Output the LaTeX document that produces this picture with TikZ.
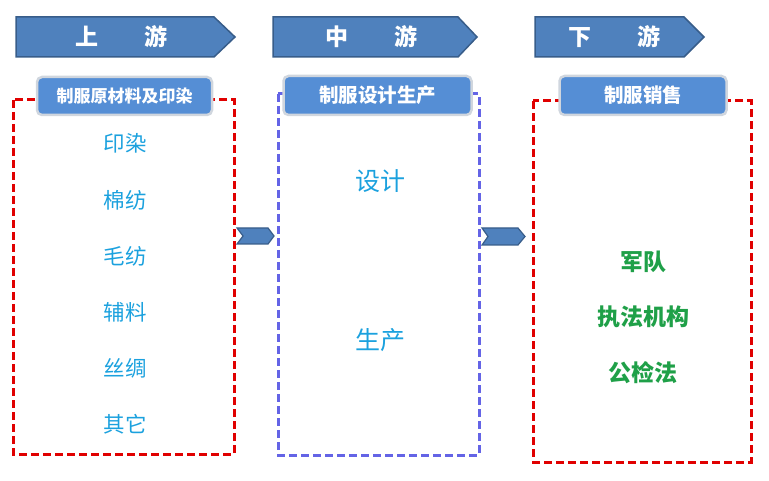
\documentclass[tikz,border=0pt]{standalone}
\usepackage{fontspec}
\setmainfont{Noto Sans CJK SC}
\usetikzlibrary{calc}
\definecolor{hdrfill}{HTML}{4F81BD}
\definecolor{hdrline}{HTML}{385D8A}
\definecolor{lblfill}{HTML}{558ED5}
\definecolor{lblline}{HTML}{D0D6DE}
\definecolor{redd}{HTML}{E00000}
\definecolor{blued}{HTML}{6464E6}
\definecolor{cyantxt}{HTML}{1BA1DE}
\definecolor{greentxt}{HTML}{1FA048}
\tikzset{
  hdrarrow/.style={fill=hdrfill, draw=hdrline, line width=1.5pt, line join=miter},
  hdrtext/.style={text=white, font=\bfseries\fontsize{23}{23}\selectfont, inner sep=0pt},
  redbox/.style={draw=redd, line width=3pt, dash pattern=on 8pt off 4pt},
  bluebox/.style={draw=blued, line width=3pt, dash pattern=on 8pt off 4pt},
  lblbox/.style={fill=lblfill, draw=lblline, line width=2.5pt, rounded corners=5pt, text=white, font=\bfseries\fontsize{19.5}{19.5}\selectfont, inner sep=0pt},
  chev/.style={fill=hdrfill, draw=hdrline, line width=1.2pt, line join=miter},
  listtxt/.style={text=cyantxt, font=\fontsize{21.5}{21.5}\selectfont, inner sep=0pt},
  midtxt/.style={text=cyantxt, font=\fontsize{25}{25}\selectfont, inner sep=0pt},
  grntxt/.style={text=greentxt, font=\bfseries\fontsize{23}{23}\selectfont, inner sep=0pt}
}
\begin{document}
\begin{tikzpicture}[x=1pt,y=-1pt]
\useasboundingbox (0,0) rectangle (769,481);
% header arrows
\draw[hdrarrow] (16,17) -- (214,17) -- (235,37) -- (214,57) -- (16,57) -- cycle;
\node[hdrtext] (h1) at (121,37) {上\hspace{2em}游};
\draw[hdrarrow] (273,17) -- (458,17) -- (477,37) -- (458,57) -- (273,57) -- cycle;
\node[hdrtext] (h2) at (371,37) {中\hspace{2em}游};
\draw[hdrarrow] (535,17) -- (684,17) -- (704,37) -- (684,57) -- (535,57) -- cycle;
\node[hdrtext] (h3) at (614,37) {下\hspace{2em}游};
% dashed boxes
\draw[redbox] (13,100) rectangle (234,454);
\draw[bluebox] (278,94) rectangle (479,455);
\draw[redbox] (533,101) rectangle (751,462);
% label boxes
\node[lblbox, minimum width=175pt, minimum height=38pt] (l1) at (124.5,96) {\fontsize{17}{17}\selectfont 制服原材料及印染};
\node[lblbox, minimum width=188pt, minimum height=39pt] (l2) at (377.5,95.5) {制服设计生产};
\node[lblbox, minimum width=167pt, minimum height=39pt] (l3) at (643,95.5) {制服销售};
% chevrons
\draw[chev] (237,228) -- (268,228) -- (274,236) -- (268,244) -- (237,244) -- (243,236) -- cycle;
\draw[chev] (482,228) -- (518,228) -- (525,236.5) -- (518,245) -- (482,245) -- (488,236.5) -- cycle;
% left list
\node[listtxt] (a1) at (125,143) {印染};
\node[listtxt] (a2) at (125,200) {棉纺};
\node[listtxt] (a3) at (125,256) {毛纺};
\node[listtxt] (a4) at (125,312) {辅料};
\node[listtxt] (a5) at (125,368) {丝绸};
\node[listtxt] (a6) at (125,424) {其它};
% middle
\node[midtxt] (b1) at (380,181) {设计};
\node[midtxt] (b2) at (380,340) {生产};
% right
\node[grntxt] (c1) at (643,262) {军队};
\node[grntxt] (c2) at (643,317) {执法机构};
\node[grntxt] (c3) at (643,373) {公检法};
\end{tikzpicture}
\end{document}
